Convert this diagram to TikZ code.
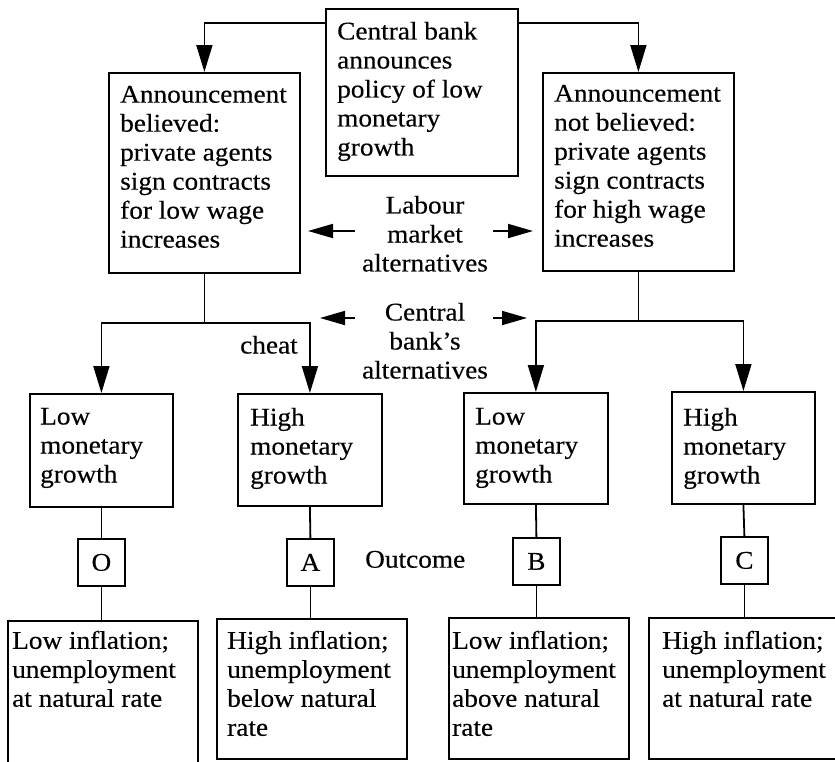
\documentclass[tikz,border=0pt]{standalone}
\usepackage{fontspec}
\setmainfont{Liberation Serif}[FakeStretch=1.07, FakeBold=0.3]
\usetikzlibrary{arrows.meta}
\tikzset{
  box/.style={draw, line width=1.8pt, inner sep=0pt, anchor=north west},
  txt/.style={anchor=north west, align=left, inner sep=0pt, font=\fontsize{25.5}{29}\selectfont},
  ctxt/.style={anchor=north, align=center, inner sep=0pt, font=\fontsize{25.5}{29}\selectfont},
  ltr/.style={box, minimum width=47pt, minimum height=47pt, font=\fontsize{25.5}{29}\selectfont, anchor=north west},
  conn/.style={line width=1.8pt},
  arr/.style={line width=1.8pt, -{Triangle[length=27pt, width=16pt]}},
  harr/.style={line width=1.8pt, -{Triangle[length=25pt, width=14pt]}}
}
\begin{document}
\begin{tikzpicture}[x=1pt,y=-1pt]
\useasboundingbox (0,0) rectangle (835,761);
\clip (0,0) rectangle (835,761);
% top row boxes
\node[box, minimum width=192pt, minimum height=167pt] (cb) at (325,8) {};
\node[txt] (cbt) at (337,21.6) {Central bank\\announces\\policy of low\\monetary\\growth};
\node[box, minimum width=191pt, minimum height=200pt] (lb) at (108,72) {};
\node[txt] (lbt) at (120,85.6) {Announcement\\believed:\\private agents\\sign contracts\\for low wage\\increases};
\node[box, minimum width=191pt, minimum height=198pt] (rb) at (542,72) {};
\node[txt] (rbt) at (554,84.6) {Announcement\\not believed:\\private agents\\sign contracts\\for high wage\\increases};
% labels
\node[ctxt] (lab) at (425,195.6) {Labour\\market\\alternatives};
\node[ctxt] (cba) at (425,302.6) {Central\\bank’s\\alternatives};
\node[txt] (cheat) at (240,335.6) {cheat};
\node[txt] (outc) at (365,550.6) {Outcome};
% middle boxes
\node[box, minimum width=143pt, minimum height=113pt] (m1) at (29,393) {};
\node[txt] (m1t) at (40,407.6) {Low\\monetary\\growth};
\node[box, minimum width=144pt, minimum height=112pt] (m2) at (237,393) {};
\node[txt] (m2t) at (250,407.6) {High\\monetary\\growth};
\node[box, minimum width=144pt, minimum height=111pt] (m3) at (463,392) {};
\node[txt] (m3t) at (475,407.6) {Low\\monetary\\growth};
\node[box, minimum width=143pt, minimum height=112pt] (m4) at (671,391) {};
\node[txt] (m4t) at (683,407.6) {High\\monetary\\growth};
% outcome letters
\node[ltr] (o) at (77,538) {O};
\node[ltr] (a) at (286,538) {A};
\node[ltr] (b) at (512,537) {B};
\node[ltr] (c) at (720,536) {C};
% bottom boxes
\node[box, minimum width=190pt, minimum height=150pt] (b1) at (7,620) {};
\node[txt] (b1t) at (12,630.6) {Low inflation;\\unemployment\\at natural rate};
\node[box, minimum width=190pt, minimum height=140pt] (b2) at (216,618) {};
\node[txt] (b2t) at (227,630.6) {High inflation;\\unemployment\\below natural\\rate};
\node[box, minimum width=180pt, minimum height=141pt] (b3) at (448,617) {};
\node[txt] (b3t) at (452,630.6) {Low inflation;\\unemployment\\above natural\\rate};
\node[box, minimum width=210pt, minimum height=141pt] (b4) at (648,617) {};
\node[txt] (b4t) at (662,630.6) {High inflation;\\unemployment\\at natural rate};
% connectors
\draw[arr] ([yshift=-15pt]cb.north west) -| (lb.north);
\draw[arr] ([yshift=-15pt]cb.north east) -| (rb.north);
\draw[conn] (lb.south) -- ++(0,49) coordinate (j1);
\draw[arr] (j1) -| (m1.north);
\draw[arr] (j1) -| (m2.north);
\draw[conn] (rb.south) -- ++(0,49) coordinate (j2);
\draw[arr] (j2) -| (m3.north);
\draw[arr] (j2) -| (m4.north);
\draw[conn] (m1.south) -- (o.north);
\draw[conn] (m2.south) -- (a.north);
\draw[conn] (m3.south) -- (b.north);
\draw[conn] (m4.south) -- (c.north);
\draw[conn] (o.south) -- (o.south |- b1.north);
\draw[conn] (a.south) -- (a.south |- b2.north);
\draw[conn] (b.south) -- (b.south |- b3.north);
\draw[conn] (c.south) -- (c.south |- b4.north);
% label arrows
\coordinate (la1) at (355,231);
\coordinate (la2) at (308,231);
\coordinate (ra1) at (493,231);
\coordinate (ra2) at (533,231);
\coordinate (lc1) at (355,318);
\coordinate (lc2) at (320,318);
\coordinate (rc1) at (493,318);
\coordinate (rc2) at (527,318);
\draw[harr] (la1) -- (la2);
\draw[harr] (ra1) -- (ra2);
\draw[harr] (lc1) -- (lc2);
\draw[harr] (rc1) -- (rc2);
\end{tikzpicture}
\end{document}
